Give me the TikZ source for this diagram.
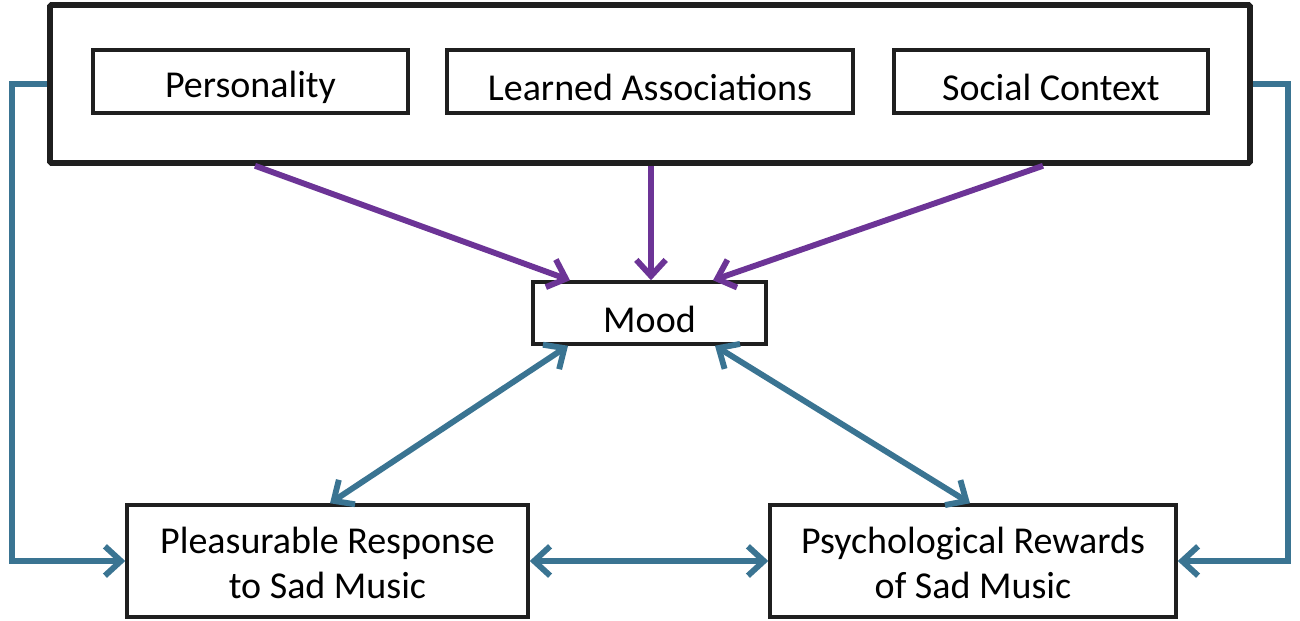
\documentclass[tikz,border=0pt]{standalone}
\usepackage{fontspec}
\setmainfont{Carlito}
\usetikzlibrary{arrows.meta}
\definecolor{fbblue}{RGB}{58,116,146}
\definecolor{fbpurple}{RGB}{108,52,150}
\newcommand{\dn}[1]{\raisebox{-4.5pt}[\height][\depth]{#1}}
\begin{document}
\begin{tikzpicture}[x=0.75pt,y=-0.75pt,
  box/.style={draw=black!88,line width=2.6pt,fill=white,inner sep=0pt,font=\fontsize{28.5}{33.5}\selectfont,align=center},
  pur/.style={draw=fbpurple,line width=4.4pt,-{Straight Barb[length=12pt,width=22pt]}},
  blu/.style={draw=fbblue,line width=4.4pt,-{Straight Barb[length=12pt,width=22pt]}},
  blu2/.style={draw=fbblue,line width=4.4pt,{Straight Barb[length=12pt,width=22pt]}-{Straight Barb[length=12pt,width=22pt]}}]
\useasboundingbox (0,0) rectangle (1300,621);
\node[draw=black!88,line width=4.2pt,minimum width=1200*0.75pt,minimum height=158*0.75pt,inner sep=0pt,rounded corners=1pt] (outer) at (650,84) {};
\node[box,minimum width=315*0.75pt,minimum height=63*0.75pt] (pers) at (250.5,81.5) {\dn{Personality}};
\node[box,minimum width=406*0.75pt,minimum height=63*0.75pt] (learn) at (650,81.5) {\dn{Learned Associations}};
\node[box,minimum width=314*0.75pt,minimum height=63*0.75pt] (soc) at (1051,81.5) {\dn{Social Context}};
\node[box,minimum width=233*0.75pt,minimum height=62*0.75pt] (mood) at (649.5,313) {\dn{Mood}};
\node[box,minimum width=401*0.75pt,minimum height=112*0.75pt] (pleas) at (327.5,561) {\dn{\begin{tabular}{c}Pleasurable Response\\to Sad Music\end{tabular}}};
\node[box,minimum width=406*0.75pt,minimum height=112*0.75pt] (psych) at (973,561) {\dn{\begin{tabular}{c}Psychological Rewards\\of Sad Music\end{tabular}}};
% purple arrows
\draw[pur] (outer.south -| 255,0) -- (mood.north -| 570,0);
\draw[pur] (outer.south -| 651,0) -- (mood.north -| 651,0);
\draw[pur] (outer.south -| 1043,0) -- (mood.north -| 713,0);
% blue double arrows
\draw[blu2] (mood.south -| 568,0) -- (pleas.north -| 330,0);
\draw[blu2] (mood.south -| 715,0) -- (psych.north -| 970,0);
\draw[blu2] (pleas.east) -- (psych.west);
% feedback lines
\coordinate (lt) at (12,84);
\coordinate (rt) at (1288,84);
\draw[blu] (outer.west) -- (lt) |- (pleas.west);
\draw[blu] (outer.east) -- (rt) |- (psych.east);
\end{tikzpicture}
\end{document}
